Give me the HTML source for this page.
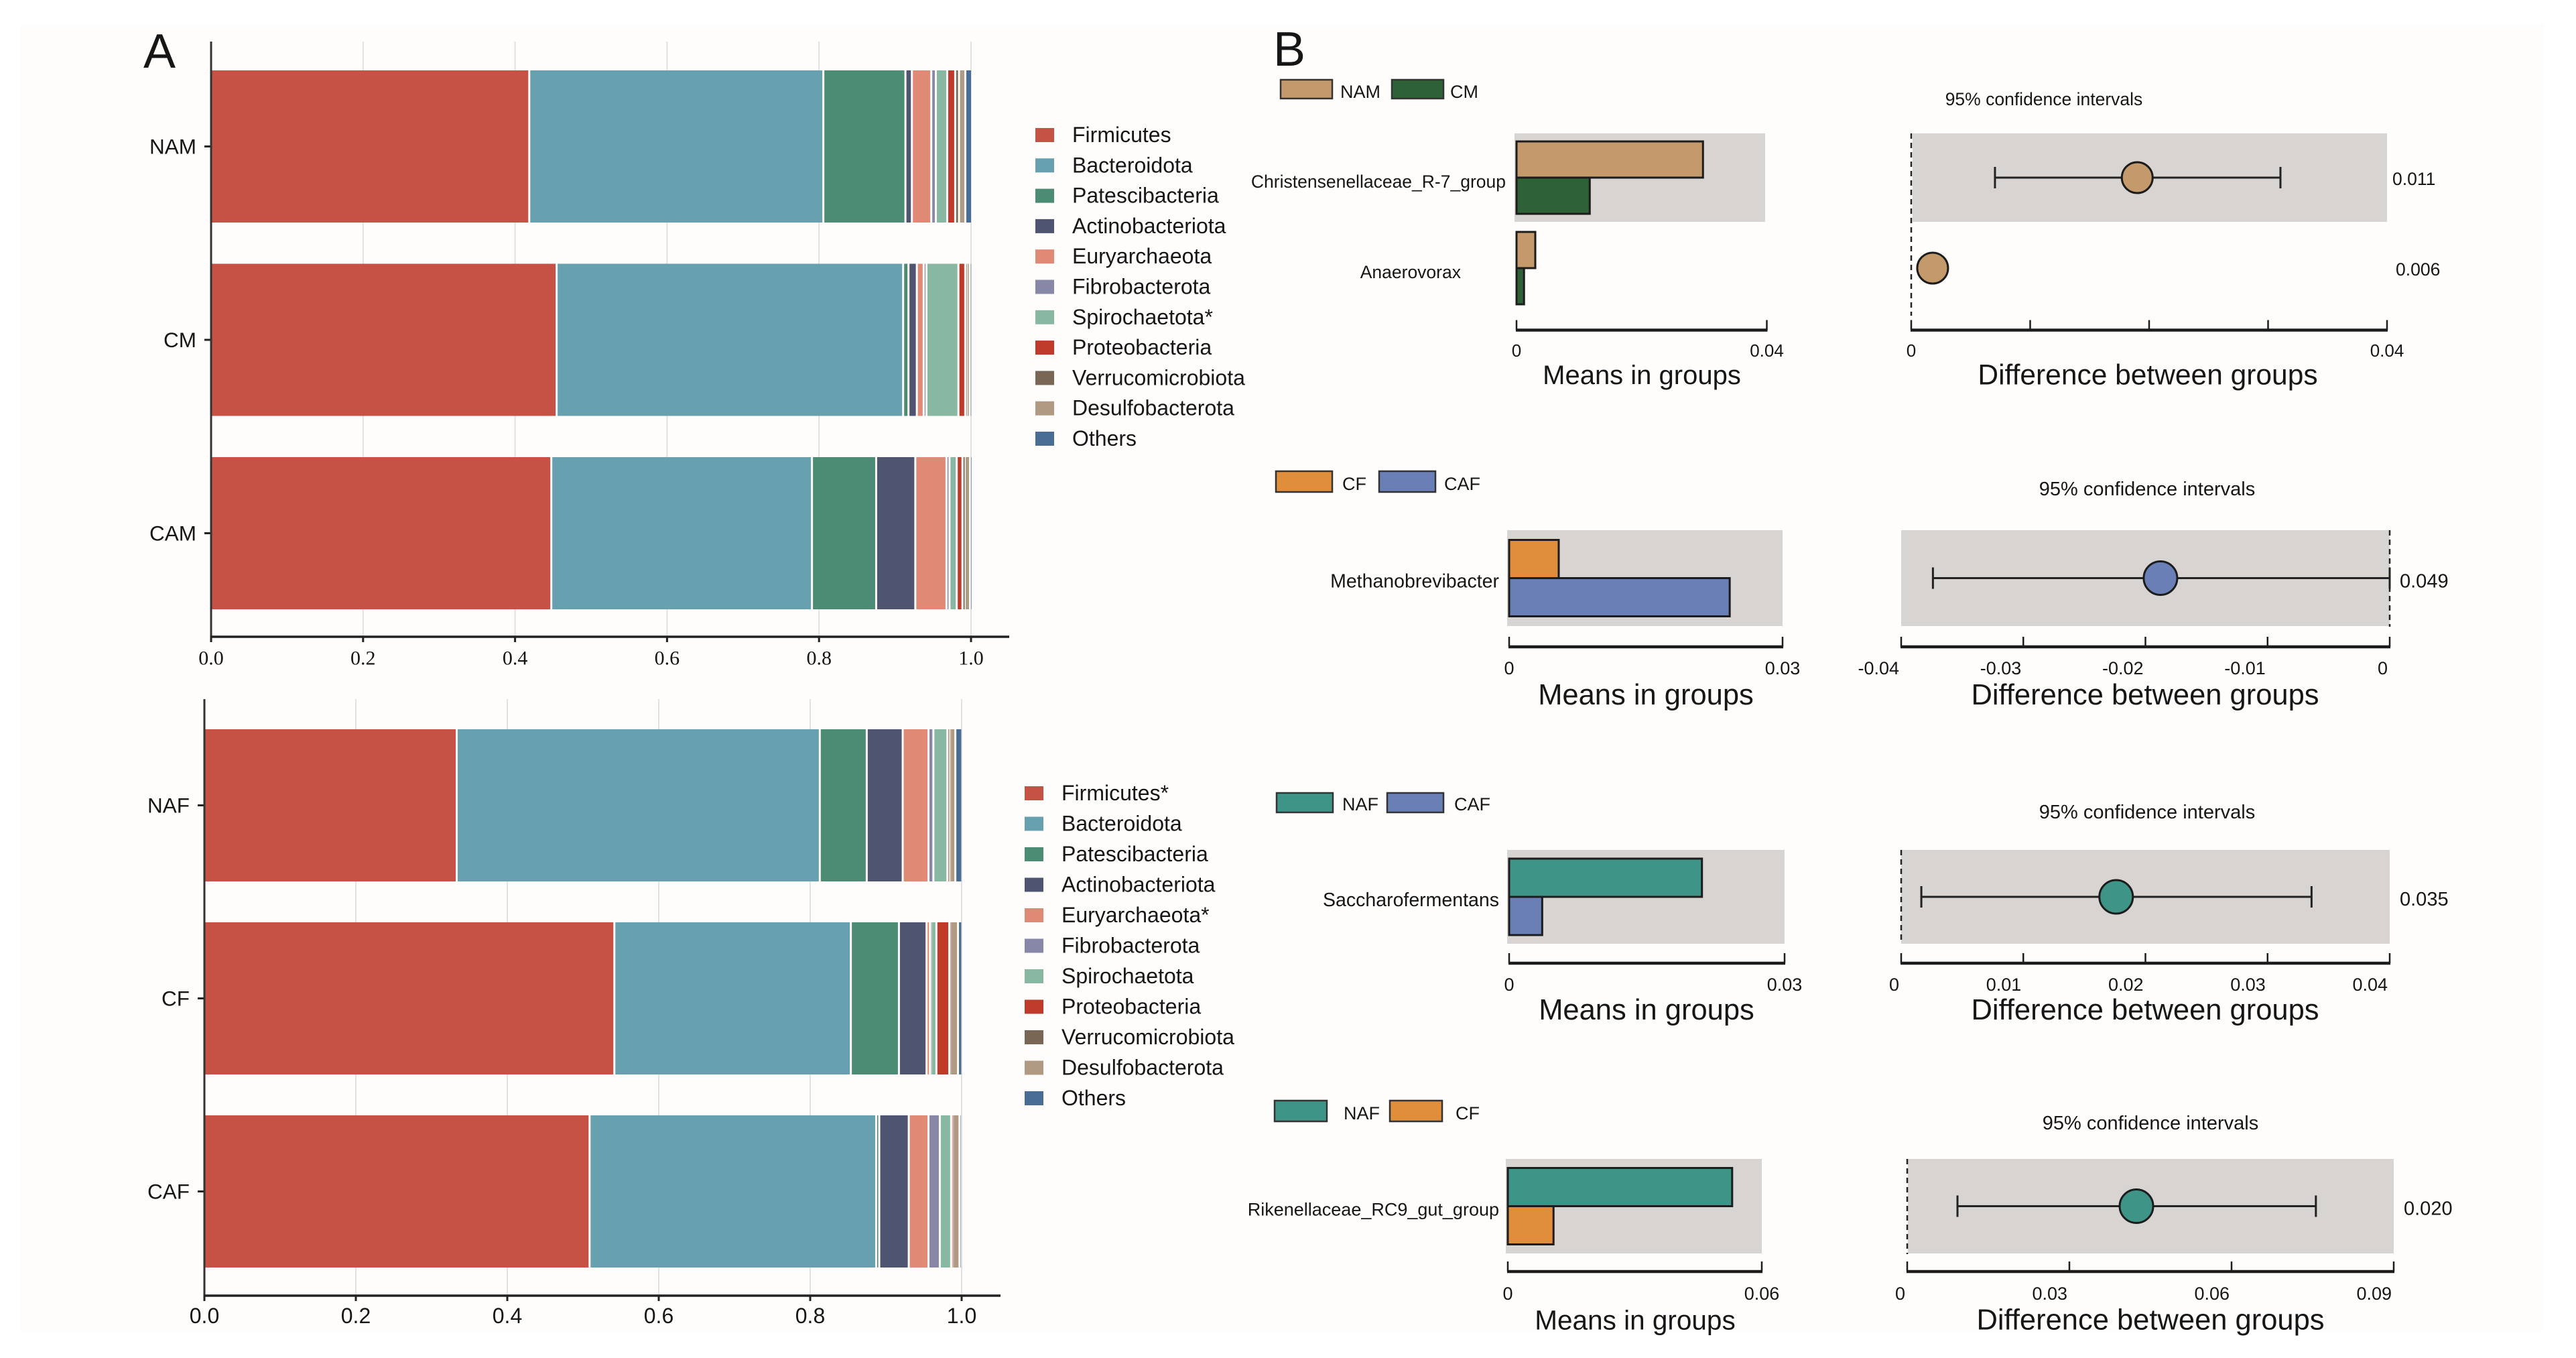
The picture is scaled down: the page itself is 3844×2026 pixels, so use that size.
<!DOCTYPE html>
<html lang="en">
<head>
<meta charset="utf-8">
<title>Microbiota composition and differential abundance</title>
<style>
html,body{margin:0;padding:0;background:#fff}
svg{display:block}
text{font-family:"Liberation Sans",sans-serif;fill:#161616}
</style>
</head>
<body>
<svg id="figure" xmlns="http://www.w3.org/2000/svg" width="3844" height="2026" viewBox="0 0 3844 2026">
<rect x="0" y="0" width="3844" height="2026" fill="#ffffff"/>
<rect x="30" y="36" width="3766" height="1950" fill="#fffdfb"/>
<text x="214" y="101" font-size="72">A</text>
<text x="1900" y="98" font-size="72">B</text>
</svg>
<script>
/* ---------- Panel A data ---------- */
const phylaTop = ['Firmicutes','Bacteroidota','Patescibacteria','Actinobacteriota','Euryarchaeota','Fibrobacterota','Spirochaetota*','Proteobacteria','Verrucomicrobiota','Desulfobacterota','Others'];
const phylaBottom = ['Firmicutes*','Bacteroidota','Patescibacteria','Actinobacteriota','Euryarchaeota*','Fibrobacterota','Spirochaetota','Proteobacteria','Verrucomicrobiota','Desulfobacterota','Others'];
const phylaColors = ['#c55244','#67a0ae','#4c8c74','#4f5570','#e08a75','#8787a8','#89b8a2','#bf3a2b','#7a6655','#b09a84','#4a6d96'];
const groupsTop = ['NAM','CM','CAM'];
const groupsBottom = ['NAF','CF','CAF'];
const valuesNAM = [0.42,0.387,0.108,0.0085,0.0255,0.006,0.015,0.0105,0.005,0.0083,0.0062];
const valuesCM = [0.456,0.456,0.007,0.011,0.009,0.0037,0.042,0.009,0.002,0.004,0.0003];
const valuesCAM = [0.449,0.343,0.0845,0.0515,0.041,0.004,0.0095,0.0075,0.003,0.007,0.0005];
const valuesNAF = [0.3345,0.4795,0.062,0.0475,0.034,0.0065,0.0185,0.002,0.001,0.0075,0.0065];
const valuesCF = [0.5427,0.3123,0.0635,0.0365,0.0045,0.001,0.0075,0.017,0.001,0.0105,0.003];
const valuesCAF = [0.51,0.3785,0.004,0.039,0.026,0.015,0.015,0.001,0.001,0.009,0.0005];
const stackTicks = [0,0.2,0.4,0.6,0.8,1.0];
const stackTickLabels = ['0.0','0.2','0.4','0.6','0.8','1.0'];

/* ---------- Panel B data ---------- */
const p1Groups = ['NAM','CM'];
const p1Taxa = ['Christensenellaceae_R-7_group','Anaerovorax'];
const p1MeansA = [0.0298,0.003];
const p1MeansB = [0.0117,0.0012];
const p1Diff = [0.019,0.0018];
const p1CiLow = [0.00704,0.0012];
const p1CiHigh = [0.03104,0.0026];
const p1P = ['0.011','0.006'];
const p1MeanMax = 0.04;
const p1DiffTicks = [0,0.01,0.02,0.03,0.04];
const p1DiffLabels = ['0','','','','0.04'];
const p1MeanLabels = ['0','0.04'];

const p2Groups = ['CF','CAF'];
const p2Taxa = ['Methanobrevibacter'];
const p2MeansA = [0.00544];
const p2MeansB = [0.0242];
const p2Diff = [-0.01877];
const p2CiLow = [-0.0374];
const p2CiHigh = [0];
const p2P = ['0.049'];
const p2MeanMax = 0.03;
const p2DiffTicks = [-0.04,-0.03,-0.02,-0.01,0];
const p2DiffLabels = ['-0.04','-0.03','-0.02','-0.01','0'];
const p2MeanLabels = ['0','0.03'];

const p3Groups = ['NAF','CAF'];
const p3Taxa = ['Saccharofermentans'];
const p3MeansA = [0.021];
const p3MeansB = [0.0036];
const p3Diff = [0.0176];
const p3CiLow = [0.00165];
const p3CiHigh = [0.0336];
const p3P = ['0.035'];
const p3MeanMax = 0.03;
const p3DiffTicks = [0,0.01,0.02,0.03,0.04];
const p3DiffLabels = ['0','0.01','0.02','0.03','0.04'];
const p3MeanLabels = ['0','0.03'];

const p4Groups = ['NAF','CF'];
const p4Taxa = ['Rikenellaceae_RC9_gut_group'];
const p4MeansA = [0.053];
const p4MeansB = [0.0108];
const p4Diff = [0.0424];
const p4CiLow = [0.0093];
const p4CiHigh = [0.0756];
const p4P = ['0.020'];
const p4MeanMax = 0.06;
const p4DiffTicks = [0,0.03,0.06,0.09];
const p4DiffLabels = ['0','0.03','0.06','0.09'];
const p4MeanLabels = ['0','0.06'];

const groupColors = {NAM:'#c49a6c',CM:'#2f6136',CF:'#e08e3c',CAF:'#6a7fb5',NAF:'#3f9488'};

/* ---------- Helpers ---------- */
const NS = 'http://www.w3.org/2000/svg';
const root = document.getElementById('figure');
function mk(tag, attrs, parent){
  const el = document.createElementNS(NS, tag);
  for (const k in attrs) el.setAttribute(k, attrs[k]);
  (parent || root).appendChild(el);
  return el;
}
function txt(parent, s, x, y, size, anchor, family){
  const el = mk('text', {x:x, y:y, 'font-size':size, 'text-anchor':anchor || 'start', 'dominant-baseline':'central'}, parent);
  if (family) el.style.fontFamily = family;
  el.textContent = s;
  return el;
}
function line(parent, x1, y1, x2, y2, color, w, dash){
  const a = {x1:x1, y1:y1, x2:x2, y2:y2, stroke:color, 'stroke-width':w};
  if (dash) a['stroke-dasharray'] = dash;
  return mk('line', a, parent);
}

/* ---------- Stacked bar charts ---------- */
function drawStack(name, groups, series, phyla, L){
  const g = mk('g', {}, root);
  
  
  const xs = v => L.x0 + L.w * v;
  const yBand = i => L.top + i * L.step;

  stackTicks.forEach((t, i) => {
    if (t > 0) {
      const gl = line(g, xs(t), L.axisTop, xs(t), L.axisY, '#e3e1df', 2);
      
      
    }
  });

  series.forEach((vals, i) => {
    let cum = 0;
    vals.forEach((v, k) => {
      const start = xs(cum);
      cum += v;
      const end = xs(cum);
      const gap = k < vals.length - 1 ? (end - start > 3.5 ? 3 : 1.5) : 0;
      const r = mk('rect', {x:start, y:yBand(i), width:Math.max(end - start - gap, 0.5), height:L.h, fill:phylaColors[k]}, g);
      
      
    });
    const midY = yBand(i) + L.h / 2;
    const tk = line(g, xs(0) - 10, midY, xs(0), midY, '#222', 3);
    
    
    const lb = txt(g, groups[i], xs(0) - 22, midY, 31.5, 'end');
    
    
  });

  const ya = line(g, xs(0), L.axisTop, xs(0), L.axisY, '#333', 3);
  
  
  const xa = line(g, xs(0) - 1, L.axisY, L.axisEnd, L.axisY, '#222', 3.5);
  
  

  stackTicks.forEach((t, i) => {
    const tk = line(g, xs(t), L.axisY, xs(t), L.axisY + 8, '#222', 3);
    
    
    const lb = txt(g, stackTickLabels[i], xs(t), L.tickY, L.tickSize, 'middle', L.tickFamily);
    
    
  });

  phyla.forEach((p, i) => {
    const cy = L.legY + i * L.legStep;
    const sw = mk('rect', {x:L.legX, y:cy - 10, width:28, height:21, fill:phylaColors[i]}, g);
    
    
    const lb = txt(g, p, L.legX + 55, cy, 32, 'start');
    
    
  });
}

drawStack('stacked-chart-male', groupsTop, [valuesNAM, valuesCM, valuesCAM], phylaTop, {
  x0:315, w:1134, top:105, step:288.5, h:227, axisTop:62, axisY:950, axisEnd:1506,
  tickY:982, tickSize:30, tickFamily:'"Liberation Serif",serif', legX:1545, legY:201, legStep:45.3
});
drawStack('stacked-chart-female', groupsBottom, [valuesNAF, valuesCF, valuesCAF], phylaBottom, {
  x0:305, w:1130, top:1088, step:288, h:227, axisTop:1043, axisY:1933, axisEnd:1493,
  tickY:1963, tickSize:32, tickFamily:null, legX:1529, legY:1183, legStep:45.5
});

/* ---------- Differential abundance panels ---------- */
function drawPanel(name, groups, taxa, mA, mB, diff, lo, hi, pv, meanMax, dTicks, dLabels, mLabels, L){
  const g = mk('g', {}, root);
  
  
  const xm = v => L.m0 + (L.m1 - L.m0) * v / meanMax;
  const dMin = dTicks[0], dMax = dTicks[dTicks.length - 1];
  const xd = v => L.d0 + (L.d1 - L.d0) * (v - dMin) / (dMax - dMin);
  const ca = groupColors[groups[0]], cb = groupColors[groups[1]];

  /* legend */
  const s1 = mk('rect', {x:L.leg1, y:L.legTop, width:L.legW, height:L.legH, fill:ca, stroke:'#333', 'stroke-width':2.5}, g);
  
  
  const t1 = txt(g, groups[0], L.legT1, L.legY, 27);
  
  
  const s2 = mk('rect', {x:L.leg2, y:L.legTop, width:L.legW, height:L.legH, fill:cb, stroke:'#333', 'stroke-width':2.5}, g);
  
  
  const t2 = txt(g, groups[1], L.legT2, L.legY, 27);
  
  

  /* confidence interval title */
  const ci = txt(g, '95% confidence intervals', L.ciX, L.ciY, L.ciSize, 'middle');
  
  

  /* grey bands */
  const b1 = mk('rect', {x:L.m0 - 3, y:L.top, width:L.mBandW, height:L.bandH, fill:'#d8d4d1'}, g);
  
  
  const b2 = mk('rect', {x:L.dBandX, y:L.top, width:L.dBandW, height:L.bandH, fill:'#d8d4d1'}, g);
  
  

  taxa.forEach((name2, i) => {
    const cy = L.top + L.bandH / 2 + i * L.rowStep;
    const ba = mk('rect', {x:xm(0), y:cy - L.barH, width:xm(mA[i]) - xm(0), height:L.barH, fill:ca, stroke:'#1c1c1c', 'stroke-width':3}, g);
    
    
    const bb = mk('rect', {x:xm(0), y:cy, width:xm(mB[i]) - xm(0), height:L.barH, fill:cb, stroke:'#1c1c1c', 'stroke-width':3}, g);
    
    
    const tl = txt(g, name2, L.labelX - (L.labelShift && i > 0 ? L.labelShift : 0), cy + L.labelDy, L.labelSize, 'end');
    
    

    const cl = line(g, xd(lo[i]), cy, xd(hi[i]), cy, '#222', 3);
    
    
    [lo[i], hi[i]].forEach(v => {
      const cap = line(g, xd(v), cy - 16, xd(v), cy + 16, '#222', 3);
      
      
    });
    const pt = mk('circle', {cx:xd(diff[i]), cy:cy, r:L.r, fill:diff[i] < 0 ? cb : ca, stroke:'#1c1c1c', 'stroke-width':3}, g);
    
    
    const pl = txt(g, pv[i], L.pX + (i > 0 ? 5 : 0), cy + L.pDy, L.pSize, 'start');
    
    
  });

  /* zero reference */
  const z = line(g, xd(0), L.top, xd(0), L.dashEnd, '#222', 2.5, '8 6');
  
  

  /* means axis */
  const ma = line(g, L.m0 - 1, L.axisY, L.m1 + 1, L.axisY, '#1c1c1c', 4.5);
  
  
  [0, meanMax].forEach((v, i) => {
    const tk = line(g, xm(v), L.axisY, xm(v), L.axisY - 15, '#1c1c1c', 2.5);
    
    
    const lb = txt(g, mLabels[i], xm(v), L.tickY, L.tickSize, 'middle');
    
    
  });
  const mt = txt(g, 'Means in groups', L.mTitleX, L.titleY, L.titleSize, 'middle');
  
  

  /* difference axis */
  const da = line(g, L.d0 - 1, L.axisY, L.d1 + 1, L.axisY, '#1c1c1c', 4.5);
  
  
  dTicks.forEach((v, i) => {
    const tk = line(g, xd(v), L.axisY, xd(v), L.axisY - 15, '#1c1c1c', 2.5);
    
    
    if (dLabels[i]) {
      const lb = txt(g, dLabels[i], L.tickEnd ? xd(v) - 3 : xd(v), L.tickY, L.tickSize, L.tickEnd ? 'end' : 'middle');
      
      
    }
  });
  const dt = txt(g, 'Difference between groups', L.dTitleX, L.titleY, L.dTitleSize, 'middle');
  
  
}

drawPanel('difference-panel-nam-cm', p1Groups, p1Taxa, p1MeansA, p1MeansB, p1Diff, p1CiLow, p1CiHigh, p1P, p1MeanMax, p1DiffTicks, p1DiffLabels, p1MeanLabels, {
  m0:2263, m1:2636.5, d0:2852, d1:3562, top:199, bandH:132, rowStep:135, barH:54, r:23,
  mBandW:374, dBandX:2854, dBandW:708, dashEnd:471, axisY:492.5, tickY:523, tickSize:26, titleY:560, titleSize:40, dTitleSize:42.5,
  mTitleX:2450, dTitleX:3205, tickEnd:false, labelX:2247, labelShift:67, labelDy:6, labelSize:26.5, pX:3570, pDy:2, pSize:26.5,
  leg1:1911, leg2:2077, legTop:119, legW:77, legH:28, legT1:2000, legT2:2164, legY:137, ciX:3050, ciY:148, ciSize:26.5
});
drawPanel('difference-panel-cf-caf', p2Groups, p2Taxa, p2MeansA, p2MeansB, p2Diff, p2CiLow, p2CiHigh, p2P, p2MeanMax, p2DiffTicks, p2DiffLabels, p2MeanLabels, {
  m0:2252, m1:2660, d0:2837, d1:3566, top:791, bandH:143, rowStep:0, barH:57, r:25,
  mBandW:411, dBandX:2837, dBandW:729, dashEnd:935, axisY:965, tickY:997, tickSize:27, titleY:1037, titleSize:43.5, dTitleSize:43.5,
  mTitleX:2456, dTitleX:3201, tickEnd:true, labelX:2237, labelDy:5, labelSize:28.5, pX:3581, pDy:5, pSize:29,
  leg1:1904, leg2:2058, legTop:703, legW:84, legH:31, legT1:2003, legT2:2155, legY:722, ciX:3204, ciY:730, ciSize:29
});
drawPanel('difference-panel-naf-caf', p3Groups, p3Taxa, p3MeansA, p3MeansB, p3Diff, p3CiLow, p3CiHigh, p3P, p3MeanMax, p3DiffTicks, p3DiffLabels, p3MeanLabels, {
  m0:2252, m1:2663, d0:2837, d1:3566, top:1268, bandH:140, rowStep:0, barH:57, r:25,
  mBandW:414, dBandX:2837, dBandW:729, dashEnd:1408, axisY:1437, tickY:1469, tickSize:27, titleY:1507, titleSize:43.5, dTitleSize:43.5,
  mTitleX:2457, dTitleX:3201, tickEnd:true, labelX:2237, labelDy:5, labelSize:28.5, pX:3581, pDy:4, pSize:29,
  leg1:1905, leg2:2070, legTop:1183, legW:84, legH:29, legT1:2003, legT2:2170, legY:1200, ciX:3204, ciY:1212, ciSize:29
});
drawPanel('difference-panel-naf-cf', p4Groups, p4Taxa, p4MeansA, p4MeansB, p4Diff, p4CiLow, p4CiHigh, p4P, p4MeanMax, p4DiffTicks, p4DiffLabels, p4MeanLabels, {
  m0:2250, m1:2629, d0:2846, d1:3572, top:1729, bandH:141, rowStep:0, barH:57, r:25,
  mBandW:382, dBandX:2847, dBandW:725, dashEnd:1871, axisY:1897, tickY:1930, tickSize:27, titleY:1969.5, titleSize:40.5, dTitleSize:43.5,
  mTitleX:2440, dTitleX:3209, tickEnd:true, labelX:2237, labelDy:5, labelSize:27, pX:3587, pDy:4, pSize:29,
  leg1:1902, leg2:2074, legTop:1642, legW:78, legH:31, legT1:2005, legT2:2172, legY:1661, ciX:3209, ciY:1676, ciSize:29
});
</script>
</body>
</html>
